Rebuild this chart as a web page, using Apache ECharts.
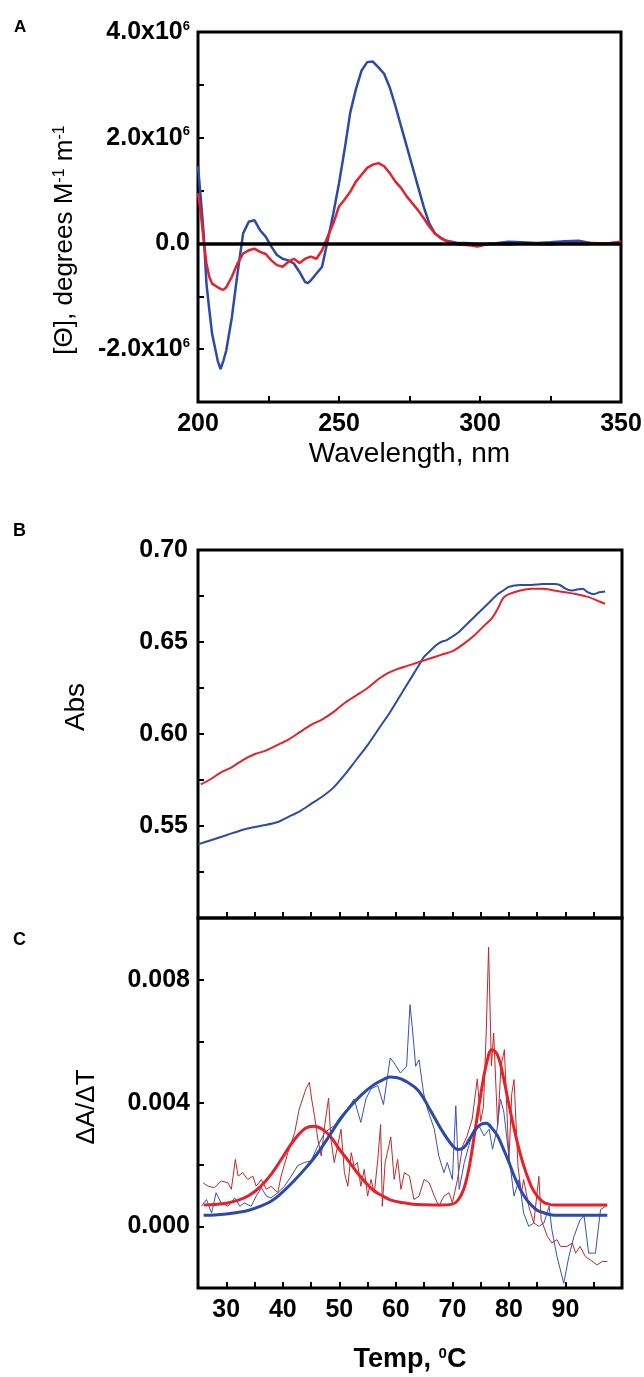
<!DOCTYPE html>
<html><head><meta charset="utf-8">
<script src="https://cdn.jsdelivr.net/npm/echarts@6/dist/echarts.min.js"></script>
<style>html,body{margin:0;padding:0;background:#fff}#c{width:644px;height:1377px}</style>
</head><body><div id="c"></div><script>
// ---------- Panel A: CD spectra (values in 10^6 deg M^-1 m^-1) ----------
const wavelengths = [200,201,202,203,204,205,207,208,209,210,212,214,216,218,220,222,224,226,228,230,232,234,236,238,239,240,242,244,245,246,248,250,252,254,256,258,260,262,264,266,268,270,272,274,276,278,280,282,284,286,288,290,292,295,297,299,300,302,305,310,315,320,325,330,335,340,345,350];
const cdBlue = [1.46,0.85,0.19,-0.76,-1.25,-1.71,-2.22,-2.38,-2.22,-2.03,-1.40,-0.57,0.19,0.41,0.44,0.25,0.13,-0.06,-0.22,-0.29,-0.32,-0.38,-0.54,-0.73,-0.75,-0.70,-0.57,-0.44,-0.19,0.06,0.57,1.14,1.78,2.48,2.92,3.27,3.43,3.44,3.33,3.21,2.95,2.60,2.22,1.84,1.46,1.08,0.70,0.38,0.19,0.10,0.05,0.03,0.01,0.01,0.0,-0.01,-0.02,-0.01,0.0,0.03,0.02,0.01,0.02,0.04,0.05,0.0,0.0,0.02];
const cdRed = [0.95,0.57,0.06,-0.38,-0.63,-0.76,-0.83,-0.86,-0.88,-0.83,-0.63,-0.38,-0.19,-0.13,-0.10,-0.16,-0.20,-0.32,-0.41,-0.44,-0.35,-0.29,-0.37,-0.29,-0.27,-0.25,-0.29,-0.13,0.0,0.13,0.38,0.70,0.83,0.98,1.17,1.30,1.43,1.49,1.52,1.46,1.33,1.17,1.05,0.89,0.76,0.63,0.48,0.32,0.19,0.11,0.05,0.01,-0.02,-0.03,-0.04,-0.06,-0.05,-0.02,-0.01,-0.02,0.0,-0.01,-0.02,0.0,0.01,0.01,0.0,0.03];

// ---------- Panel B: melting curves ----------
const absBlueT = [25,27,30,33,36,39,41,43,45,47,49,51,53,55,57,59,61,63,64,65,66,67,68,69,70,71,72,73,74,75,76,77,78,79,80,82,84,86,88,89,90,91,92,93,94,95,96,97];
const absBlue  = [0.540,0.542,0.545,0.548,0.550,0.552,0.555,0.558,0.562,0.566,0.571,0.578,0.586,0.594,0.603,0.612,0.622,0.632,0.637,0.642,0.645,0.648,0.650,0.651,0.653,0.655,0.658,0.661,0.664,0.667,0.670,0.673,0.676,0.678,0.680,0.681,0.681,0.6815,0.6815,0.681,0.679,0.678,0.6785,0.679,0.677,0.676,0.677,0.6775];
const absRedT = [25.5,27,29,31,33,35,37,39,41,43,45,47,49,51,53,55,57,58.5,60,62,64,66,68,70,72,74,75,76,77,78,79,80,82,84,86,88,90,92,94,96,97];
const absRed  = [0.5727,0.575,0.579,0.582,0.586,0.589,0.591,0.594,0.597,0.601,0.605,0.608,0.612,0.617,0.621,0.625,0.630,0.633,0.635,0.637,0.639,0.641,0.643,0.645,0.649,0.654,0.657,0.660,0.663,0.668,0.674,0.676,0.678,0.679,0.679,0.678,0.677,0.676,0.6745,0.672,0.6708];

// ---------- Panel C: first derivative (values in 10^-3) ----------
const rawRedT = [25.9,26.8,27.9,29.1,30.3,30.9,31.6,32.1,32.9,33.8,34.7,35.3,36.2,37.1,37.9,39.1,39.7,40.9,42.1,42.9,43.5,44.1,44.7,45.1,45.6,46.2,46.8,47.4,48.1,48.5,49.1,49.7,50.3,50.9,51.5,52.1,52.6,53.2,53.8,54.4,55.0,55.6,56.2,56.8,57.3,57.6,58.1,58.5,59.1,59.7,60.3,60.9,61.5,62.4,63.2,64.1,65.0,65.9,66.8,67.6,68.5,69.4,70.0,70.9,71.8,72.6,73.5,74.4,75.0,75.5,76.0,76.4,76.9,77.3,78.0,78.6,79.2,80.0,80.5,80.9,81.6,82.2,82.6,83.5,84.4,85.3,85.7,86.8,87.6,88.5,89.1,90.3,91.2,91.8,92.6,93.5,94.4,95.6,96.5,97.4];
const rawRed  = [1.41,1.30,1.25,1.47,1.41,1.20,2.17,1.63,1.74,1.52,1.63,1.30,1.52,1.20,1.30,1.09,1.63,2.39,3.04,3.80,4.13,4.46,4.67,4.13,3.59,2.83,2.28,3.26,4.16,2.83,2.07,2.61,3.15,1.74,1.30,2.39,1.96,2.07,1.30,1.85,0.98,1.52,1.09,2.17,3.30,0.65,2.07,2.39,2.90,1.52,2.17,1.20,1.74,1.63,0.87,0.98,1.52,1.41,0.98,0.65,0.98,1.09,0.76,1.52,2.61,2.93,3.48,4.78,3.40,3.90,6.40,9.05,5.20,6.27,3.24,5.20,5.73,2.16,4.30,4.76,1.95,1.08,1.52,0.65,0.11,1.62,0.22,-0.33,-0.54,-0.43,-0.65,-0.65,-0.54,-0.87,-0.65,-0.98,-1.09,-1.25,-1.14,-1.14];
const rawBlueT = [25.6,26.5,27.4,28.2,29.1,30.3,31.5,32.4,33.2,34.4,35.3,36.2,37.1,37.9,39.1,40.3,41.5,42.6,43.8,45.0,46.2,47.4,48.2,49.1,50.3,51.5,52.6,53.8,54.7,55.6,56.8,57.8,59.0,59.7,60.8,61.9,62.5,63.0,63.5,64.1,64.9,65.6,66.8,67.6,68.5,69.1,70.0,70.6,71.2,72.1,72.9,73.8,74.7,75.6,76.5,77.1,77.9,78.5,79.1,80.0,80.9,81.8,82.6,83.5,84.4,85.3,86.2,87.1,87.6,88.5,89.7,90.6,91.5,92.6,93.3,94.1,95.3,96.2,97.1];
const rawBlue  = [0.65,0.87,0.43,1.09,0.76,0.65,0.92,0.65,0.76,0.65,0.98,1.25,0.98,0.92,1.09,1.30,1.63,1.96,2.07,2.12,2.61,3.04,3.15,3.26,3.59,3.80,4.13,3.37,4.13,4.46,4.57,3.95,5.46,5.30,4.97,5.19,7.19,6.27,5.19,5.40,4.32,3.80,3.15,2.28,1.74,2.07,1.52,3.91,1.20,2.07,2.61,3.15,3.26,2.93,3.15,2.50,3.15,4.13,3.70,2.28,0.98,1.52,0.43,0.00,0.11,0.00,0.11,0.65,-0.11,-0.98,-1.85,-0.98,-0.33,0.22,0.33,-0.87,-0.87,0.54,0.65];
const fitRedT = [26,28,30,32,34,36,38,40,42,44,45.5,47,48.5,50,51.5,53,54.5,56,57.5,59,61,63,65,68,70,71,72,73,74,75,76,77,78,79,80,81,82,83,84,85,86,87,88,97.4];
const fitRed  = [0.69,0.71,0.75,0.84,1.00,1.28,1.70,2.25,2.80,3.18,3.25,3.15,2.90,2.50,2.15,1.78,1.45,1.17,1.00,0.86,0.77,0.72,0.70,0.69,0.72,0.85,1.20,1.95,3.10,4.25,5.25,5.73,5.55,4.85,3.95,3.10,2.35,1.75,1.28,0.98,0.80,0.72,0.69,0.69];
const fitBlueT = [26,28,30,32,34,36,38,40,42,44,46,48,50,52,54,56,58,59,60,62,64,66,68,70,71,72,73,74,75,76,77,78,79,80,81,82,83,84,85,86,87,88,97.4];
const fitBlue  = [0.36,0.37,0.40,0.45,0.52,0.65,0.82,1.12,1.48,1.88,2.33,2.87,3.43,3.90,4.28,4.58,4.78,4.84,4.83,4.68,4.40,3.80,3.15,2.62,2.49,2.55,2.82,3.12,3.30,3.34,3.18,2.93,2.52,2.08,1.60,1.20,0.90,0.68,0.52,0.45,0.39,0.36,0.36];

const F = "'Liberation Sans', Arial, sans-serif";
const BLUE = '#2b4aab', RED = '#e8202a', RAWBLUE = '#3b4fb8', RAWRED = '#c1282c';
const zip = (xs, ys, k) => xs.map((x, i) => [x, ys[i] * (k || 1)]);

const tickStyle = {show:true, inside:true, length:6, lineStyle:{color:'#000', width:2}};
const noLine = {show:false, onZero:false};
const lblBase = {color:'#000', fontFamily:F, fontWeight:'bold', fontSize:25};
const gridBase = {show:true, borderColor:'#000', borderWidth:3, backgroundColor:'transparent', outerBoundsMode:'none', containLabel:false};

const chart = echarts.init(document.getElementById('c'), null, {renderer:'canvas'});
chart.setOption({
  backgroundColor:'#fff',
  animation:false,
  graphic:[
    {type:'text', left:14, top:19, style:{text:'A', fontFamily:F, fontWeight:'bold', fontSize:17, fill:'#000'}},
    {type:'text', left:13, top:522, style:{text:'B', fontFamily:F, fontWeight:'bold', fontSize:18, fill:'#000'}},
    {type:'text', left:13, top:931, style:{text:'C', fontFamily:F, fontWeight:'bold', fontSize:18, fill:'#000'}}
  ],
  grid:[
    Object.assign({left:198, top:32, width:423, height:370}, gridBase),
    Object.assign({left:198, top:550, width:424, height:368}, gridBase),
    Object.assign({left:198, top:918, width:424, height:370}, gridBase)
  ],
  xAxis:[
    {gridIndex:0, type:'value', min:200, max:350, interval:25,
     axisLine:noLine, splitLine:{show:false}, axisTick:tickStyle,
     axisLabel:Object.assign({margin:10, formatter:v => (v % 50 === 0 ? String(v) : '')}, lblBase),
     name:'Wavelength, nm', nameLocation:'middle', nameGap:38,
     nameTextStyle:{fontFamily:F, fontSize:28, color:'#000'}},
    {gridIndex:1, type:'value', min:25, max:100, interval:5,
     axisLine:noLine, splitLine:{show:false}, axisTick:tickStyle,
     axisLabel:{show:false}},
    {gridIndex:2, type:'value', min:25, max:100, interval:5,
     axisLine:noLine, splitLine:{show:false}, axisTick:tickStyle,
     axisLabel:Object.assign({margin:10, formatter:v => (v % 10 === 0 && v < 100 ? String(v) : '')}, lblBase),
     name:'{a|Temp, }{s|0}{a|C}', nameLocation:'middle', nameGap:58,
     nameTextStyle:{rich:{
       a:{fontFamily:F, fontSize:27, fontWeight:'bold', color:'#000'},
       s:{fontFamily:F, fontSize:15, fontWeight:'bold', color:'#000', verticalAlign:'top'}}}}
  ],
  yAxis:[
    {gridIndex:0, type:'value', min:-3, max:4, interval:1,
     axisLine:noLine, splitLine:{show:false}, axisTick:tickStyle,
     axisLabel:{margin:8,
       formatter:v => (Math.round(v) % 2 === 0 ? (Math.round(v) === 0 ? '{m|0.0}' : '{m|' + v.toFixed(1) + 'x10}{s|6}') : ''),
       rich:{m:{fontFamily:F, fontSize:25, fontWeight:'bold', color:'#000'},
             s:{fontFamily:F, fontSize:13, fontWeight:'bold', color:'#000', verticalAlign:'top'}}},
     name:'[Θ], degrees M{s|-1} m{s|-1}', nameLocation:'middle', nameGap:120,
     nameTextStyle:{fontFamily:F, fontSize:26, color:'#000', padding:[0,46,0,0],
       rich:{s:{fontFamily:F, fontSize:16, color:'#000', verticalAlign:'top'}}}},
    {gridIndex:1, type:'value', min:0.5, max:0.7, interval:0.025,
     axisLine:noLine, splitLine:{show:false}, axisTick:tickStyle,
     axisLabel:Object.assign({margin:10, formatter:v => {const k = Math.round(v*1000); return (k % 50 === 0 && k > 500) ? v.toFixed(2) : '';}}, lblBase),
     name:'Abs', nameLocation:'middle', nameGap:108,
     nameTextStyle:{fontFamily:F, fontSize:28, color:'#000', padding:[0,0,0,54]}},
    {gridIndex:2, type:'value', min:-0.002, max:0.010, interval:0.002,
     axisLine:noLine, splitLine:{show:false}, axisTick:tickStyle,
     axisLabel:Object.assign({margin:8, formatter:v => {const k = Math.round(v*1000); return (k % 4 === 0) ? (k/1000).toFixed(3) : '';}}, lblBase),
     name:'ΔA/ΔT', nameLocation:'middle', nameGap:98,
     nameTextStyle:{fontFamily:F, fontSize:26, color:'#000', padding:[0,8,0,0]}}
  ],
  series:[
    {type:'line', xAxisIndex:0, yAxisIndex:0, data:zip(wavelengths, cdBlue), showSymbol:false, symbol:'none',
     lineStyle:{color:BLUE, width:2.5}, z:3,
     markLine:{silent:true, symbol:['none','none'], label:{show:false}, lineStyle:{color:'#000', width:3.5, type:'solid'},
       data:[{yAxis:0}], animation:false}},
    {type:'line', xAxisIndex:0, yAxisIndex:0, data:zip(wavelengths, cdRed), showSymbol:false, symbol:'none',
     lineStyle:{color:RED, width:2.5}, z:4},
    {type:'line', xAxisIndex:1, yAxisIndex:1, data:zip(absBlueT, absBlue), showSymbol:false, symbol:'none', smooth:0.3,
     lineStyle:{color:BLUE, width:2}},
    {type:'line', xAxisIndex:1, yAxisIndex:1, data:zip(absRedT, absRed), showSymbol:false, symbol:'none', smooth:0.3,
     lineStyle:{color:RED, width:2}},
    {type:'line', xAxisIndex:2, yAxisIndex:2, data:zip(rawRedT, rawRed, 0.001), showSymbol:false, symbol:'none',
     lineStyle:{color:RAWRED, width:1}},
    {type:'line', xAxisIndex:2, yAxisIndex:2, data:zip(rawBlueT, rawBlue, 0.001), showSymbol:false, symbol:'none',
     lineStyle:{color:RAWBLUE, width:1}},
    {type:'line', xAxisIndex:2, yAxisIndex:2, data:zip(fitRedT, fitRed, 0.001), showSymbol:false, symbol:'none', smooth:0.4,
     lineStyle:{color:RED, width:3}},
    {type:'line', xAxisIndex:2, yAxisIndex:2, data:zip(fitBlueT, fitBlue, 0.001), showSymbol:false, symbol:'none', smooth:0.4,
     lineStyle:{color:BLUE, width:3}}
  ]
});
</script></body></html>
